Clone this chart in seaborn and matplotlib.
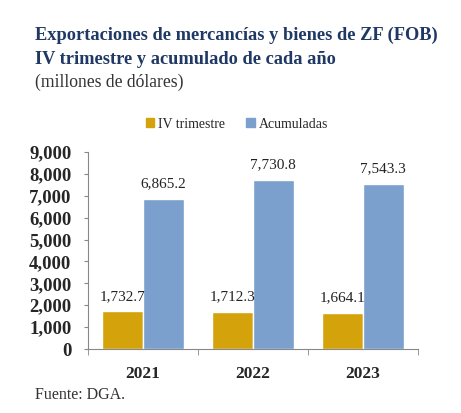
import pandas as pd
import matplotlib.pyplot as plt
import seaborn as sns

# Datos (millones de dólares)
anios = ['2021', '2022', '2023']
iv_trimestre = [1732.7, 1712.3, 1664.1]
acumuladas = [6865.2, 7730.8, 7543.3]
series = ['IV trimestre', 'Acumuladas']
colores = ['#D4A20B', '#7BA0CD']

df = pd.DataFrame({
    'anio': anios * 2,
    'serie': [series[0]] * 3 + [series[1]] * 3,
    'valor': iv_trimestre + acumuladas,
})

sns.set_style('white')
plt.rcParams['font.family'] = ['Liberation Serif', 'DejaVu Serif']

fig = plt.figure(figsize=(4.61, 4.13), dpi=100)
ax = fig.add_axes([88 / 461, 1 - 349 / 413, 330 / 461, 197 / 413])

sns.barplot(data=df, x='anio', y='valor', hue='serie', palette=colores,
            width=0.74, gap=0, saturation=1, ax=ax, legend=False)

for cont in ax.containers:
    ax.bar_label(cont, labels=[f'{v:,.1f}' for v in cont.datavalues],
                 padding=6, fontsize=11, color='#222222')

ax.set_ylim(0, 9000)
ax.set_xlim(-0.5, 2.5)
ax.set_yticks(range(0, 9001, 1000))
ax.set_yticklabels([f'{v:,}' for v in range(0, 9001, 1000)],
                   fontsize=13.5, fontweight='bold')
ax.set_xticks([0, 1, 2])
ax.set_xticklabels(anios, fontsize=12.5, fontweight='bold')
ax.set_xticks([-0.5, 0.5, 1.5, 2.5], minor=True)
ax.tick_params(axis='x', which='major', length=0, pad=12)
ax.tick_params(axis='x', which='minor', length=4, color='#888888', bottom=True)
ax.tick_params(axis='y', length=3, color='#888888', left=True, pad=9)
ax.set_xlabel('')
ax.set_ylabel('')
for s in ['top', 'right']:
    ax.spines[s].set_visible(False)
for s in ['left', 'bottom']:
    ax.spines[s].set_color('#888888')
    ax.spines[s].set_linewidth(0.8)

# Leyenda
handles = [plt.Rectangle((0, 0), 1, 1, color=c) for c in colores]
fig.legend(handles, series, loc='center', bbox_to_anchor=(237 / 461, 1 - 124 / 413),
           ncol=2, frameon=False, fontsize=10, handlelength=0.6, handleheight=0.6,
           handletextpad=0.3, columnspacing=1.5)

# Títulos
navy = '#1F3864'
fig.text(35 / 461, 1 - 35 / 413, 'Exportaciones de mercancías y bienes de ZF (FOB)',
         fontsize=13.2, fontweight='bold', color=navy, va='center')
fig.text(35 / 461, 1 - 59 / 413, 'IV trimestre y acumulado de cada año',
         fontsize=13.2, fontweight='bold', color=navy, va='center')
fig.text(35 / 461, 1 - 82 / 413, '(millones de dólares)',
         fontsize=12.7, color='#333333', va='center')
fig.text(35 / 461, 1 - 395 / 413, 'Fuente: DGA.', fontsize=11.5, color='#333333', va='center')

plt.savefig('out.png', dpi=100)
